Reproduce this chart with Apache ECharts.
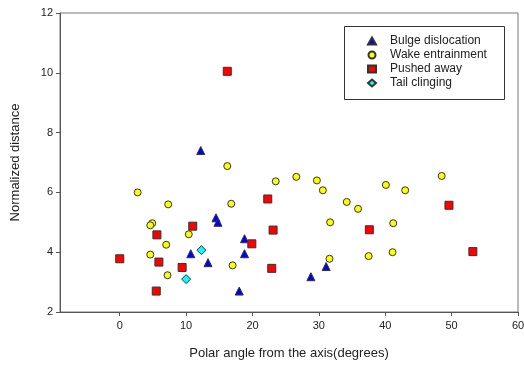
<!DOCTYPE html>
<html>
<head>
<meta charset="utf-8">
<script src="https://cdn.jsdelivr.net/npm/echarts@6/dist/echarts.min.js"></script>
<style>
  html, body { margin: 0; padding: 0; background: #fff; }
  #chart { width: 524px; height: 365px; }
</style>
</head>
<body>
<div id="chart"></div>
<script>
// data
const bulgeX = [12.2, 14.5, 14.8, 18.8, 10.7, 18.8, 13.3, 31.1, 28.8, 18.0];
const bulgeY = [7.4, 5.15, 5.0, 4.45, 3.95, 3.95, 3.65, 3.52, 3.18, 2.7];

const wakeX = [2.7, 7.3, 16.2, 16.8, 4.9, 4.6, 10.4, 7.0, 4.6, 7.2, 17.0, 23.5, 26.6, 29.7, 30.6, 34.2, 35.9, 31.7, 31.6, 37.5, 40.1, 43.0, 48.5, 41.2, 41.1];
const wakeY = [6.0, 5.6, 6.88, 5.62, 4.97, 4.9, 4.6, 4.25, 3.92, 3.23, 3.56, 6.37, 6.52, 6.4, 6.07, 5.68, 5.45, 5.0, 3.78, 3.87, 6.25, 6.07, 6.55, 4.97, 4.0];

const pushedX = [16.2, 11.0, 5.6, 0, 5.9, 9.4, 5.5, 22.3, 23.1, 19.9, 22.9, 37.6, 49.6, 53.2];
const pushedY = [10.05, 4.87, 4.58, 3.78, 3.67, 3.49, 2.7, 5.78, 4.74, 4.28, 3.46, 4.75, 5.57, 4.02];

const tailX = [12.3, 10.0];
const tailY = [4.07, 3.1];

const xTicks = [0, 10, 20, 30, 40, 50, 60];

const font = '"Liberation Sans", Arial, sans-serif';

function pts(xs, ys) {
  return xs.map((x, i) => [x, ys[i]]);
}

function series(name, xs, ys, symbol, size, color) {
  return {
    name: name,
    type: 'scatter',
    symbol: symbol,
    symbolSize: size,
    data: pts(xs, ys),
    itemStyle: { color: color, borderColor: '#333', borderWidth: 1, opacity: 1 },
    emphasis: { disabled: true }
  };
}

const chart = echarts.init(document.getElementById('chart'));

chart.setOption({
  backgroundColor: '#fff',
  animation: false,
  textStyle: { fontFamily: font },
  grid: {
    left: 60, right: 6, top: 13, bottom: 53,
    outerBoundsMode: 'none',
    containLabel: false,
    show: true, borderColor: '#777', borderWidth: 1
  },
  xAxis: {
    type: 'value',
    min: -9, max: 60,
    name: 'Polar angle from the axis(degrees)',
    nameLocation: 'middle',
    nameGap: 35,
    nameTextStyle: { fontSize: 13, color: '#222', fontFamily: font },
    axisLine: { show: true, onZero: false, lineStyle: { color: '#555', width: 1 } },
    axisTick: { show: true, inside: false, length: 4, customValues: xTicks, lineStyle: { color: '#555' } },
    axisLabel: { customValues: xTicks, fontSize: 11, color: '#222', margin: 8, fontFamily: font },
    splitLine: { show: false }
  },
  yAxis: {
    type: 'value',
    min: 2, max: 12, interval: 2,
    name: 'Normalized distance',
    nameLocation: 'middle',
    nameGap: 38,
    nameTextStyle: { fontSize: 13, color: '#222', fontFamily: font },
    axisLine: { show: true, onZero: false, lineStyle: { color: '#555', width: 1 } },
    axisTick: { show: true, inside: false, length: 4, lineStyle: { color: '#555' } },
    axisLabel: { fontSize: 11, color: '#222', margin: 7, fontFamily: font },
    splitLine: { show: false }
  },
  legend: {
    orient: 'vertical',
    left: 362, top: 30,
    itemWidth: 8, itemHeight: 7,
    itemGap: 2,
    textStyle: { fontSize: 12, color: '#222', fontFamily: font, padding: [0, 0, 0, 9] },
    data: ['Bulge dislocation', 'Wake entrainment', 'Pushed away', 'Tail clinging']
  },
  graphic: [{
    type: 'rect',
    shape: { x: 344.5, y: 26.5, width: 160, height: 73 },
    style: { fill: 'none', stroke: '#333', lineWidth: 1 },
    z: 10
  }],
  series: [
    series('Bulge dislocation', bulgeX, bulgeY, 'triangle', 8, '#0000ff'),
    series('Wake entrainment', wakeX, wakeY, 'circle', 7, '#ffff00'),
    series('Pushed away', pushedX, pushedY, 'rect', 8, '#ff0000'),
    series('Tail clinging', tailX, tailY, 'diamond', 9, '#00ffff')
  ]
});
</script>
</body>
</html>
